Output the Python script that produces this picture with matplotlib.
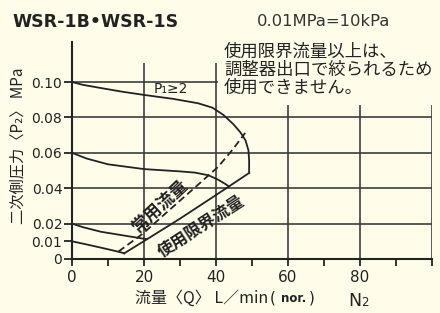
import numpy as np
import matplotlib
matplotlib.use("Agg")
import matplotlib.pyplot as plt

plt.rcParams['font.family'] = ['DejaVu Sans', 'Noto Sans CJK JP']
JP = ['Noto Sans CJK JP', 'DejaVu Sans']

bg = '#fffdea'
ink = '#222222'
gridc = '#3c3c3c'

# pressure curves (flow L/min, P2 MPa)
upper_x = [0, 3, 8, 14, 20, 28, 35, 39, 42, 44.8, 46.8, 48.2, 49.0, 49.2, 49.2]
upper_y = [0.100, 0.0984, 0.0966, 0.0945, 0.0927, 0.0905, 0.0880, 0.0855,
           0.0815, 0.0762, 0.0715, 0.0670, 0.0615, 0.0560, 0.0486]
mid_x = [0, 4, 10, 20, 30, 34.2, 37.9, 40.6, 42.5, 43.6]
mid_y = [0.060, 0.0568, 0.0535, 0.0508, 0.0495, 0.0488, 0.0473, 0.0448, 0.0425, 0.0410]
low_x = [0, 3, 8, 14, 20.7]
low_y = [0.020, 0.0180, 0.0154, 0.0134, 0.0112]
lowest_x = [0, 5, 10, 13.5, 14.5]
lowest_y = [0.010, 0.0078, 0.0055, 0.0038, 0.0032]

# 使用限界流量 (limit line)
limit_x = [14.5, 20.7, 30, 39.3, 43.6, 49.2]
limit_y = [0.0032, 0.0110, 0.0228, 0.0352, 0.0410, 0.0486]
# 常用流量 (dashed)
normal_x = [12.9, 19.8, 27.5, 34.2, 40.6, 44.5, 48.1]
normal_y = [0.0042, 0.0145, 0.0285, 0.0405, 0.0521, 0.0615, 0.0712]

xticks = [0, 10, 20, 30, 40, 50, 60, 70, 80, 90, 100]
xticklabels = ['0', '', '20', '', '40', '', '60', '', '80', '', '']
yticks = [0, 0.01, 0.02, 0.04, 0.06, 0.08, 0.10]
yticklabels = ['0', '0.01', '0.02', '0.04', '0.06', '0.08', '0.10']

fig = plt.figure(figsize=(4.4, 3.13), dpi=100, facecolor=bg)
ax = fig.add_axes([72/440, 54/313, 360/440, 217/313])
ax.set_facecolor(bg)
ax.set_xlim(0, 100)
ax.set_ylim(0, 0.1226)

# grid, cut short where the note sits
ax.hlines([0.02, 0.04, 0.06, 0.08], 0, 100, color=gridc, lw=1.2)
ax.hlines(0.10, 0, 40.5, color=gridc, lw=1.2)
ax.vlines([20, 40], 0, 0.111, color=gridc, lw=1.2)
ax.vlines([60, 80, 100], 0, 0.087, color=gridc, lw=1.2)

for xs, ys in [(upper_x, upper_y), (mid_x, mid_y), (low_x, low_y),
               (lowest_x, lowest_y), (limit_x, limit_y)]:
    ax.plot(xs, ys, color=ink, lw=1.3, solid_joinstyle='round')
ax.plot(normal_x, normal_y, color=ink, lw=1.3, linestyle=(0, (4, 2.2)))

for s in ['top', 'right']:
    ax.spines[s].set_visible(False)
for s in ['left', 'bottom']:
    ax.spines[s].set_linewidth(1.5)
    ax.spines[s].set_color(ink)

ax.set_xticks(xticks)
ax.set_xticklabels(xticklabels, fontsize=11)
ax.set_yticks(yticks)
ax.set_yticklabels(yticklabels, fontsize=10)
ax.tick_params(axis='x', length=5, width=1.3, pad=3, color=ink, labelcolor=ink)
ax.tick_params(axis='y', length=6, width=1.3, pad=1, color=ink, labelcolor=ink)

# labels inside the plot
ax.text(22.8, 0.0958, 'P₁≥2', fontsize=10, va='center', ha='left', color=ink)
ax.text(24.6, 0.0300, '常用流量', family=JP, fontsize=12.5, fontweight='bold',
        rotation=43, ha='center', va='center', color=ink)
ax.text(35.8, 0.0185, '使用限界流量', family=JP, fontsize=12, fontweight='bold',
        rotation=33, ha='center', va='center', color=ink)

note = ['使用限界流量以上は、', '調整器出口で絞られるため', '使用できません。']
for i, line in enumerate(note):
    fig.text(224/440, 1 - (52 + 18*i)/313, line, family=JP, fontsize=12.5,
             va='center', ha='left', color=ink)

fig.text(12/440, 1 - 22/313, 'WSR-1B•WSR-1S', fontsize=12.5, fontweight='bold',
         va='center', ha='left', color=ink)
fig.text(257/440, 1 - 22/313, '0.01MPa=10kPa', fontsize=11.8,
         va='center', ha='left', color='#333333')

fig.text(18/440, 1 - 146/313, '二次側圧力〈P₂〉 MPa', family=JP, fontsize=11,
         rotation=90, va='center', ha='center', color=ink)
fig.text(135/440, 1 - 298/313, '流量〈Q〉 L／min', family=JP, fontsize=11.5,
         va='center', ha='left', color=ink)
fig.text(270/440, 1 - 298/313, '(', fontsize=11, va='center', ha='left', color=ink)
fig.text(281/440, 1 - 299/313, 'nor.', fontsize=8.5, fontweight='bold',
         va='center', ha='left', color=ink)
fig.text(309/440, 1 - 298/313, ')', fontsize=11, va='center', ha='left', color=ink)
fig.text(348/440, 1 - 306/313, 'N', fontsize=12.5, va='baseline', ha='left', color=ink)
fig.text(361.5/440, 1 - 306/313, '2', fontsize=8.5, va='baseline', ha='left', color=ink)

fig.savefig('out.png', dpi=100, facecolor=bg)
